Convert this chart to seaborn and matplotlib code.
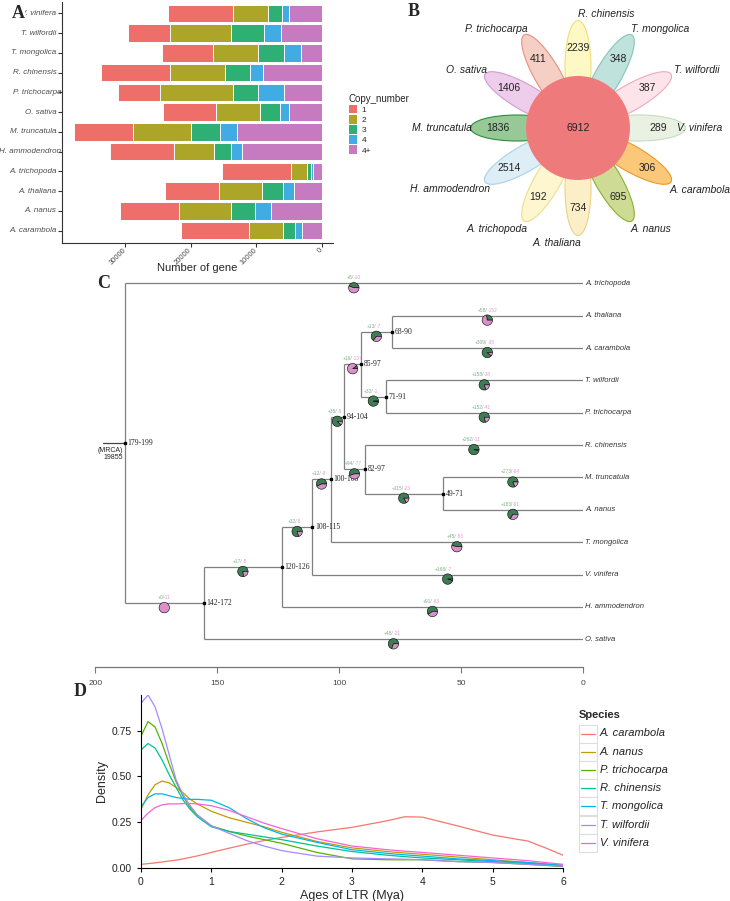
import numpy as np
import pandas as pd
import matplotlib
matplotlib.use('Agg')
import matplotlib.pyplot as plt
import seaborn as sns
from matplotlib.patches import Ellipse, Circle, Wedge, Patch, Rectangle
from matplotlib.lines import Line2D
from matplotlib.transforms import ScaledTranslation

sns.set_style('ticks')
plt.rcParams['font.family'] = ['Liberation Sans', 'DejaVu Sans']

# ---------------- data ----------------
# A: gene copy number per species (top to bottom)
species_a = ['V. vinifera', 'T. wilfordii', 'T. mongolica', 'R. chinensis', 'P. trichocarpa',
             'O. sativa', 'M. truncatula', 'H. ammodendron', 'A. trichopoda', 'A. thaliana',
             'A. nanus', 'A. carambola']
copy_levels = ['1', '2', '3', '4', '4+']
copy_1 = [10000, 6500, 7800, 10500, 6400, 8100, 9000, 9600, 10500, 8200, 9000, 10300]
copy_2 = [5300, 9300, 6800, 8400, 11100, 6700, 8800, 6100, 2400, 6500, 7900, 5200]
copy_3 = [2100, 4900, 4000, 3700, 3800, 3000, 4400, 2600, 600, 3200, 3700, 1800]
copy_4 = [1100, 2700, 2600, 2000, 4000, 1400, 2600, 1700, 300, 1700, 2400, 1100]
copy_4p = [5000, 6200, 3200, 9000, 5800, 5000, 12900, 12200, 1400, 4300, 7800, 3000]

# B: flower venn (petals counter-clockwise from top)
petal_species = ['R. chinensis', 'P. trichocarpa', 'O. sativa', 'M. truncatula', 'H. ammodendron',
                 'A. trichopoda', 'A. thaliana', 'A. nanus', 'A. carambola', 'V. vinifera',
                 'T. wilfordii', 'T. mongolica']
petal_counts = [2239, 411, 1406, 1836, 2514, 192, 734, 695, 306, 289, 387, 348]
core_count = 6912

# C: species tree
tips = ['A. trichopoda', 'A. thaliana', 'A. carambola', 'T. wilfordii', 'P. trichocarpa',
        'R. chinensis', 'M. truncatula', 'A. nanus', 'T. mongolica', 'V. vinifera',
        'H. ammodendron', 'O. sativa']
node_names = ['root', 'n142', 'n120', 'n108', 'n100', 'n94', 'n85', 'n68', 'n71', 'n82', 'n49']
node_ages = [188, 155.5, 123.5, 111, 103.5, 98, 91, 78.5, 81, 89.5, 57.5]
node_ci = ['179-199', '142-172', '120-126', '108-115', '100-108', '94-104', '85-97',
           '68-90', '71-91', '82-97', '49-71']
node_children = [['A. trichopoda', 'n142'], ['n120', 'O. sativa'], ['n108', 'H. ammodendron'],
                 ['n100', 'V. vinifera'], ['n94', 'T. mongolica'], ['n85', 'n82'],
                 ['n68', 'n71'], ['A. thaliana', 'A. carambola'],
                 ['T. wilfordii', 'P. trichocarpa'], ['R. chinensis', 'n49'],
                 ['M. truncatula', 'A. nanus']]
branch_child = ['A. trichopoda', 'A. thaliana', 'A. carambola', 'T. wilfordii', 'P. trichocarpa',
                'R. chinensis', 'M. truncatula', 'A. nanus', 'T. mongolica', 'V. vinifera',
                'H. ammodendron', 'O. sativa', 'n142', 'n120', 'n108', 'n100', 'n94', 'n85',
                'n68', 'n71', 'n82', 'n49']
gains = [8, 58, 309, 158, 152, 262, 273, 183, 45, 168, 91, 48, 0, 17, 32, 12, 35, 16, 13, 32, 94, 115]
losses = [10, 152, 38, 38, 41, 11, 64, 91, 53, 7, 63, 21, 11, 5, 8, 9, 5, 137, 7, 1, 77, 23]
mrca_size = 19855

# D: LTR insertion age densities
ltr_age = [0, 0.1, 0.2, 0.3, 0.4, 0.5, 0.6, 0.7, 0.8, 1.0, 1.25, 1.5, 1.75, 2.0, 2.5, 3.0,
           3.5, 3.75, 4.0, 4.5, 5.0, 5.5, 5.75, 6.0]
species_d = ['A. carambola', 'A. nanus', 'P. trichocarpa', 'R. chinensis', 'T. mongolica',
             'T. wilfordii', 'V. vinifera']
dens_carambola = [0.02, 0.024, 0.028, 0.033, 0.038, 0.043, 0.05, 0.058, 0.066, 0.085, 0.108, 0.13,
                  0.15, 0.167, 0.197, 0.222, 0.258, 0.28, 0.278, 0.23, 0.18, 0.147, 0.11, 0.07]
dens_nanus = [0.32, 0.40, 0.455, 0.475, 0.465, 0.44, 0.41, 0.375, 0.35, 0.31, 0.275, 0.25,
              0.225, 0.195, 0.145, 0.11, 0.09, 0.082, 0.075, 0.06, 0.045, 0.03, 0.022, 0.015]
dens_trichocarpa = [0.72, 0.80, 0.77, 0.68, 0.57, 0.47, 0.39, 0.33, 0.29, 0.23, 0.20, 0.175,
                    0.155, 0.135, 0.085, 0.05, 0.045, 0.045, 0.045, 0.035, 0.03, 0.02, 0.014, 0.008]
dens_chinensis = [0.645, 0.68, 0.655, 0.59, 0.51, 0.44, 0.37, 0.32, 0.28, 0.225, 0.20, 0.185,
                  0.17, 0.155, 0.12, 0.09, 0.07, 0.062, 0.055, 0.045, 0.035, 0.025, 0.018, 0.01]
dens_mongolica = [0.335, 0.385, 0.405, 0.405, 0.395, 0.385, 0.38, 0.375, 0.375, 0.37, 0.33, 0.27,
                  0.22, 0.185, 0.14, 0.10, 0.08, 0.072, 0.065, 0.05, 0.04, 0.03, 0.022, 0.015]
dens_wilfordii = [0.90, 0.945, 0.88, 0.76, 0.62, 0.48, 0.40, 0.34, 0.29, 0.23, 0.19, 0.15,
                  0.12, 0.095, 0.065, 0.055, 0.05, 0.048, 0.045, 0.035, 0.03, 0.02, 0.015, 0.01]
dens_vinifera = [0.26, 0.30, 0.33, 0.345, 0.35, 0.35, 0.352, 0.352, 0.35, 0.34, 0.315, 0.28,
                 0.245, 0.215, 0.16, 0.12, 0.10, 0.092, 0.085, 0.07, 0.055, 0.04, 0.03, 0.02]

# ---------------- figure ----------------
W, H = 730, 901
fig = plt.figure(figsize=(W / 100, H / 100), dpi=100)


def box(x0, y0, x1, y1):
    return [x0 / W, 1 - y1 / H, (x1 - x0) / W, (y1 - y0) / H]


def letter(x, y, s, **kw):
    fig.text(x / W, 1 - y / H, s, fontfamily='Liberation Serif', fontweight='bold',
             fontsize=13, ha='center', va='center', zorder=10, **kw)


# ---- A: stacked copy number bars ----
axA = fig.add_axes(box(62, 1.7, 333, 242.7))
axA.patch.set_alpha(0)
cols_a = dict(zip(copy_levels, ['#EE6E6A', '#ADA528', '#2EAF74', '#41ACE4', '#C67BC0']))
df_a = pd.DataFrame({'species': species_a, '1': copy_1, '2': copy_2, '3': copy_3,
                     '4': copy_4, '4+': copy_4p})
cum = df_a[copy_levels[::-1]].cumsum(axis=1)
for lev in copy_levels:
    sns.barplot(x=cum[lev], y=df_a['species'], order=species_a, orient='h',
                color=cols_a[lev], saturation=1, width=0.88, edgecolor='white',
                linewidth=0.7, ax=axA)
axA.set_xlim(39570, -1670)
axA.set_ylim(11.61, -0.59)
axA.set_xticks([30000, 20000, 10000, 0])
axA.set_xticklabels(['30000', '20000', '10000', '0'], rotation=45, ha='right', va='center',
                    rotation_mode='anchor', fontsize=5.5, color='#4d4d4d')
axA.set_yticks(range(len(species_a)))
axA.set_yticklabels([''] * len(species_a))
axA.tick_params(axis='y', length=3, color='#333')
axA.tick_params(axis='x', length=3, color='#333', pad=1.5)
# species labels, right-aligned next to the ticks (the long one runs onto the tick as in the source)
for i, sp in enumerate(species_a):
    shift = 5 if len(sp) > 13 else 0
    axA.annotate(sp, (0, i), xycoords=('axes fraction', 'data'), xytext=(-5.5 + shift, 0),
                 textcoords='offset pixels', ha='right', va='center', fontsize=5.8,
                 style='italic', color='#4d4d4d', annotation_clip=False)
axA.set_ylabel('')
axA.set_xlabel('Number of gene', fontsize=8)
axA.xaxis.label.set_va('center')
axA.xaxis.set_label_coords(0.5, -0.105)
sns.despine(ax=axA)
for s in ['left', 'bottom']:
    axA.spines[s].set_color('#333')
    axA.spines[s].set_linewidth(0.8)
handles = [Patch(facecolor=cols_a[l], edgecolor='none', label=l) for l in copy_levels]
fig.legend(handles=handles, title='Copy_number', loc='upper left',
           bbox_to_anchor=(341 / W, 1 - 86 / H), frameon=False, fontsize=6,
           title_fontsize=7, handlelength=1.0, handleheight=1.25, labelspacing=0.12,
           handletextpad=0.6, alignment='left')
letter(18, 14, 'A', bbox=dict(fc='white', ec='none', pad=0.5))

# ---- B: flower venn ----
axB = fig.add_axes(box(400, 0, 730, 260))
axB.set_xlim(400, 730)
axB.set_ylim(260, 0)
axB.axis('off')
petal_fill = ['#FDF8C4', '#F6CFC4', '#EDCDEB', '#97C997', '#DDEEF6', '#FDF6CF',
              '#FCEFC8', '#CDDB94', '#FAC878', '#E9F1E3', '#FDE3EA', '#BFE3DC']
petal_edge = ['#EDE07A', '#E3917F', '#D69AD3', '#2E8B3A', '#A9D1E6', '#EADF8E',
              '#E8D38A', '#8BAF2E', '#E89A2A', '#C7DDBB', '#F0A9BC', '#86C5B8']
name_pos = [(606, 14, 'center'), (496, 29, 'center'), (467, 70, 'center'),
            (472, 128, 'right'), (450, 189, 'center'), (497, 229, 'center'),
            (557, 243, 'center'), (651, 229, 'center'), (700, 190, 'center'),
            (677, 128, 'left'), (697, 70, 'center'), (660, 29, 'center')]
cx, cy = 578, 128
for i, (name, cnt) in enumerate(zip(petal_species, petal_counts)):
    deg = 90 + 30 * i
    a = np.deg2rad(deg)
    axB.add_patch(Ellipse((cx + 61 * np.cos(a), cy - 61 * np.sin(a)), 93, 26, angle=-deg,
                          fc=petal_fill[i], ec=petal_edge[i], lw=0.8, zorder=1))
    axB.text(cx + 80 * np.cos(a), cy - 80 * np.sin(a), str(cnt), ha='center', va='center',
             fontsize=7.5, color='#222', zorder=4)
    px, py, ha = name_pos[i]
    axB.text(px, py, name, ha=ha, va='center', fontsize=7.5, style='italic', color='#222')
axB.add_patch(Circle((cx, cy), 52, fc='#EE7A7C', ec='none', zorder=3))
axB.text(cx, cy, str(core_count), ha='center', va='center', fontsize=7.5, color='#222', zorder=4)
letter(414, 11, 'B')

# ---- C: species tree with gain/loss pies ----
axC = fig.add_axes(box(95.4, 270, 583, 666.5))
axC.patch.set_alpha(0)
axC.set_xlim(200, 0)
axC.set_ylim(11.84, -0.41)
ypos = {t: i for i, t in enumerate(tips)}
age = {t: 0 for t in tips}
age.update(dict(zip(node_names, node_ages)))
kids = dict(zip(node_names, node_children))


def place(n):
    if n in ypos:
        return ypos[n]
    ypos[n] = np.mean([place(c) for c in kids[n]])
    return ypos[n]


place('root')
lc = '#7f7f7f'
for n, ci in zip(node_names, node_ci):
    ys = [ypos[c] for c in kids[n]]
    axC.plot([age[n], age[n]], [min(ys), max(ys)], color=lc, lw=0.9, solid_capstyle='butt')
    for c in kids[n]:
        axC.plot([age[n], age[c]], [ypos[c], ypos[c]], color=lc, lw=0.9, solid_capstyle='butt')
    axC.plot(age[n], ypos[n], 's', ms=2, color='black', zorder=5)
    axC.annotate(ci, (age[n], ypos[n]), xytext=(2, 0), textcoords='offset points',
                 va='center', ha='left', fontsize=5.5, fontfamily='Liberation Serif', color='#222')
axC.plot([197, age['root']], [ypos['root']] * 2, color='#444', lw=0.9)
axC.annotate('(MRCA)\n%d' % mrca_size, (age['root'], ypos['root']), xytext=(-1.5, -2.5),
             textcoords='offset points', ha='right', va='top', fontsize=5, linespacing=1.0,
             multialignment='right', color='#222')
for t in tips:
    axC.annotate(t, (0, ypos[t]), xytext=(1.5, 0), textcoords='offset points', va='center',
                 ha='left', fontsize=5.5, style='italic', color='#333', annotation_clip=False)

parent = {c: n for n in node_names for c in kids[n]}
for c, g, l in zip(branch_child, gains, losses):
    xm = (age[parent[c]] + age[c]) / 2
    yb = ypos[c]
    tr = fig.dpi_scale_trans + ScaledTranslation(xm, yb, axC.transData)
    pink = l / (g + l)
    r = 0.052
    if pink < 1:
        axC.add_patch(Wedge((0, -0.045), r, 0, 360 * (1 - pink), transform=tr, fc='#3E7D54',
                            ec='black', lw=0.4, zorder=6, clip_on=False))
    if pink > 0:
        axC.add_patch(Wedge((0, -0.045), r, -360 * pink, 0, transform=tr, fc='#DA91C9',
                            ec='black', lw=0.4, zorder=6, clip_on=False))
    axC.annotate('+%d/' % g, (xm, yb), xytext=(0, 2.2), textcoords='offset points',
                 ha='right', va='bottom', fontsize=3.5, color='#7FB08A', zorder=7)
    axC.annotate('-%d' % l, (xm, yb), xytext=(0, 2.2), textcoords='offset points',
                 ha='left', va='bottom', fontsize=3.5, color='#E59AD0', zorder=7)

for s in ['left', 'top', 'right']:
    axC.spines[s].set_visible(False)
axC.spines['bottom'].set_bounds(0, 200)
axC.spines['bottom'].set_color('#777')
axC.spines['bottom'].set_linewidth(0.9)
axC.set_xticks([200, 150, 100, 50, 0])
axC.set_yticks([])
axC.tick_params(axis='x', labelsize=6, labelcolor='#444', color='#777', length=4, pad=6)
letter(104, 283, 'C')

# ---- D: LTR insertion age density ----
axD = fig.add_axes(box(141, 695, 563, 868))
axD.patch.set_alpha(0)
cols_d = ['#F8766D', '#C49A00', '#53B400', '#00C094', '#00B6EB', '#A58AFF', '#FB61D7']
dens = [dens_carambola, dens_nanus, dens_trichocarpa, dens_chinensis, dens_mongolica,
        dens_wilfordii, dens_vinifera]
df_d = pd.DataFrame({'age': np.tile(ltr_age, len(species_d)),
                     'density': np.concatenate(dens),
                     'Species': np.repeat(species_d, len(ltr_age))})
sns.lineplot(data=df_d, x='age', y='density', hue='Species', hue_order=species_d,
             palette=cols_d, lw=0.9, legend=False, ax=axD)
axD.set_xlim(0, 6)
axD.set_ylim(0, 0.945)
axD.set_xticks(range(7))
axD.set_yticks([0, 0.25, 0.5, 0.75])
axD.set_yticklabels(['0.00', '0.25', '0.50', '0.75'])
axD.tick_params(labelsize=7.5, length=3, color='black', labelcolor='#222')
axD.set_xlabel('Ages of LTR (Mya)', fontsize=9, labelpad=2)
axD.set_ylabel('Density', fontsize=9, labelpad=3)
sns.despine(ax=axD)
for s in ['left', 'bottom']:
    axD.spines[s].set_color('black')
    axD.spines[s].set_linewidth(0.8)

fig.text(579 / W, 1 - 715 / H, 'Species', fontsize=8, fontweight='bold', va='center', ha='left')
for i, (sp, c) in enumerate(zip(species_d, cols_d)):
    y0 = 724.5 + 18.2 * i
    fig.add_artist(Rectangle((579 / W, 1 - (y0 + 18) / H), 18 / W, 18 / H,
                             transform=fig.transFigure, fc='white', ec='#dddddd', lw=0.8))
    yc = 1 - (y0 + 9) / H
    fig.add_artist(Line2D([581 / W, 595 / W], [yc, yc], transform=fig.transFigure,
                          color=c, lw=0.9))
    fig.text(600 / W, yc, sp, fontsize=8, style='italic', va='center', ha='left', color='#222')
letter(80, 692, 'D')

fig.savefig('out.png', dpi=100)
